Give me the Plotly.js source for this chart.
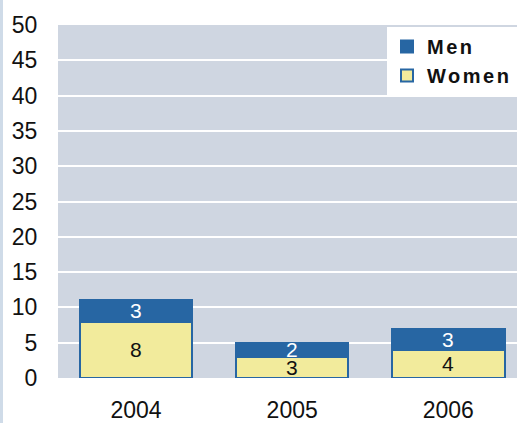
<!DOCTYPE html>
<html>
<head>
<meta charset="utf-8">
<script src="https://cdn.plot.ly/plotly-3.0.1.min.js"></script>
<style>
html,body{margin:0;padding:0;background:#fff;}
#chart{width:517px;height:423px;}
.legendtext{letter-spacing:2.5px;}
</style>
</head>
<body>
<div id="chart"></div>
<script>
var years = ['2004', '2005', '2006'];
var women = [8, 3, 4];
var men = [3, 2, 3];
var yTicks = [0, 5, 10, 15, 20, 25, 30, 35, 40, 45, 50];

var font = 'Liberation Sans, Arial, sans-serif';
var traces = [
  {
    type: 'bar', name: 'Women', x: years, y: women,
    marker: {color: '#f2eb9c', line: {color: '#2766a3', width: 2}},
    width: 0.72, hoverinfo: 'skip'
  },
  {
    type: 'bar', name: 'Men', x: years, y: men,
    marker: {color: '#2766a3', line: {color: '#2766a3', width: 2}},
    width: 0.72, hoverinfo: 'skip'
  }
];

var annotations = [];
years.forEach(function (yr, i) {
  annotations.push({x: i, y: women[i] / 2, text: String(women[i]), showarrow: false,
    xref: 'x', yref: 'y', font: {family: font, size: 21, color: '#111'}});
  annotations.push({x: i, y: women[i] + men[i] / 2, text: String(men[i]), showarrow: false,
    xref: 'x', yref: 'y', font: {family: font, size: 21, color: '#ffffff'}});
});

var layout = {
  width: 517, height: 423,
  margin: {l: 58, r: 0, t: 25, b: 45, pad: 0},
  paper_bgcolor: '#ffffff',
  plot_bgcolor: '#cfd6e1',
  barmode: 'stack',
  font: {family: font, size: 23, color: '#111'},
  showlegend: true,
  legend: {
    x: 1, xanchor: 'right', y: 0.994, yanchor: 'top',
    bgcolor: '#ffffff', traceorder: 'reversed',
    font: {family: font, size: 20, color: '#111', weight: 'bold'},
    itemwidth: 30, tracegroupgap: 0
  },
  xaxis: {
    type: 'category', range: [-0.5, 2.44],
    showgrid: false, zeroline: false, showline: false,
    ticks: 'outside', ticklen: 11, tickcolor: 'rgba(0,0,0,0)',
    tickfont: {family: font, size: 23, color: '#111'}
  },
  yaxis: {
    range: [0, 50], tickmode: 'array', tickvals: yTicks, ticktext: yTicks.map(String),
    showgrid: true, gridcolor: '#ffffff', gridwidth: 2,
    zeroline: false, showline: false,
    ticks: 'outside', ticklen: 15, tickcolor: 'rgba(0,0,0,0)',
    tickfont: {family: font, size: 23, color: '#111'}
  },
  annotations: annotations,
  shapes: [
    {type: 'rect', xref: 'paper', yref: 'paper', x0: -58/459, x1: -55/459, y0: -45/353, y1: 1 + 25/353,
     fillcolor: '#cfdbe8', line: {width: 0}, layer: 'below'}
  ]
};

Plotly.newPlot('chart', traces, layout, {displayModeBar: false, staticPlot: true});
</script>
</body>
</html>
